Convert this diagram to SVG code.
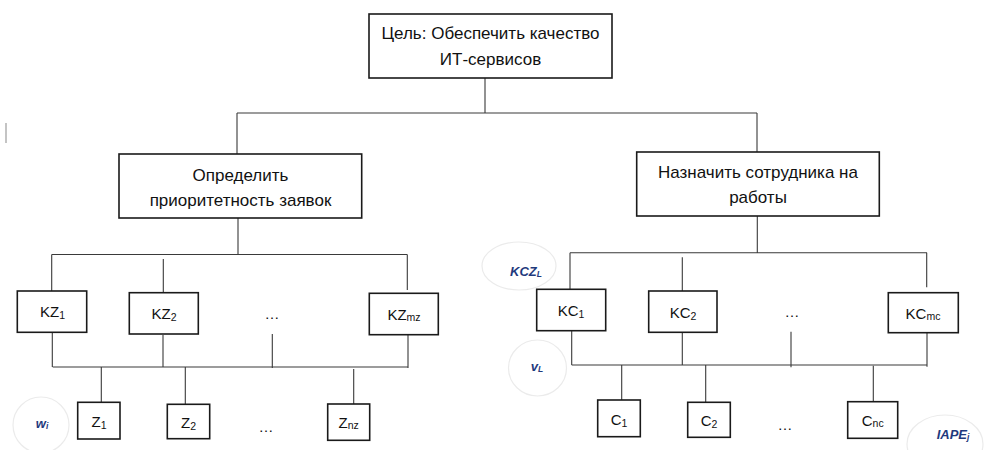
<svg xmlns="http://www.w3.org/2000/svg" width="984" height="450" viewBox="0 0 984 450">
<style>
.box{fill:#fff;stroke:#1a1a1a;stroke-width:1.6}
.ln{stroke:#3a3a3a;stroke-width:1.1;fill:none}
.t{font-family:"Liberation Sans",Arial,sans-serif;font-size:17px;fill:#111;text-anchor:middle}
.s{font-family:"Liberation Sans",Arial,sans-serif;font-size:15px;fill:#111;text-anchor:middle}
.sub{font-size:10.5px}
.ell{fill:#fff;stroke:#ebebeb;stroke-width:1.2}
.lbl{font-family:"Liberation Sans",Arial,sans-serif;font-size:13px;font-weight:bold;font-style:italic;fill:#1f3a7d;text-anchor:middle}
.lsub{font-size:8.5px}
</style>
<rect width="984" height="450" fill="#fff"/>
<line x1="6" y1="123" x2="6" y2="143" stroke="#b0b0b0" stroke-width="1.5"/>
<g id="ellipses">
<ellipse class="ell" cx="41" cy="425" rx="28" ry="28"/>
<ellipse class="ell" cx="519" cy="266" rx="37" ry="24"/>
<ellipse class="ell" cx="537.5" cy="368" rx="29" ry="28"/>
<ellipse class="ell" cx="945" cy="444" rx="38" ry="29"/>
</g>
<g id="connectors">
<path class="ln" d="M485 78V113M237 113H757M237 113V154M757 113V152"/>
<path class="ln" d="M238 218V254.5M51.7 254.5H407.3M51.7 254.5V291M163.3 259V293M407.3 254.5V290"/>
<path class="ln" d="M52.3 332V367M163 335V367M272.3 334V368M408 335V368M52.7 367H408.3"/>
<path class="ln" d="M101.3 367V402.3M185.3 367V404.3M353.7 369V404"/>
<path class="ln" d="M757.3 216V252.7M570 252.7H927M570 252.7V289M682.3 257.3V291M926.7 252.7V287.3"/>
<path class="ln" d="M571.7 330.7V365M682.3 332.3V365M791 331.7V367.3M927 333V366.7M571.7 365H927"/>
<path class="ln" d="M621.7 365V400M705.7 365V402.3M873.3 365.7V401.7"/>
</g>
<g id="goal">
<rect class="box" x="369" y="14" width="243" height="64"/>
<text class="t" x="490.5" y="39">Цель: Обеспечить качество</text>
<text class="t" x="490.5" y="65">ИТ-сервисов</text>
</g>
<g id="priority">
<rect class="box" x="119" y="154" width="242.7" height="64"/>
<text class="t" x="240.5" y="181">Определить</text>
<text class="t" x="240.5" y="206">приоритетность заявок</text>
</g>
<g id="assign">
<rect class="box" x="636.7" y="152" width="242.6" height="64"/>
<text class="t" x="758" y="177.5">Назначить сотрудника на</text>
<text class="t" x="758" y="202.5">работы</text>
</g>
<g id="kz1"><rect class="box" x="17.3" y="291" width="69.4" height="41.3"/><text class="s" x="52.5" y="316.5">KZ<tspan class="sub" dy="2">1</tspan></text></g>
<g id="kz2"><rect class="box" x="129.3" y="292.7" width="69" height="41.3"/><text class="s" x="164" y="318.5">KZ<tspan class="sub" dy="2">2</tspan></text></g>
<g id="kzdots"><text class="s" x="272" y="319">…</text></g>
<g id="kzmz"><rect class="box" x="369.3" y="293.3" width="69" height="41.4"/><text class="s" x="404" y="319.5">KZ<tspan class="sub" dy="1">mz</tspan></text></g>
<g id="z1"><rect class="box" x="77.7" y="402.3" width="42.3" height="36.7"/><text class="s" x="99" y="426.5">Z<tspan class="sub" dy="2">1</tspan></text></g>
<g id="z2"><rect class="box" x="167.3" y="404.3" width="42.4" height="34.4"/><text class="s" x="188.5" y="427.5">Z<tspan class="sub" dy="2">2</tspan></text></g>
<g id="zdots"><text class="s" x="266" y="432">…</text></g>
<g id="znz"><rect class="box" x="327.7" y="404" width="42" height="36.3"/><text class="s" x="348.7" y="427.5">Z<tspan class="sub" dy="1">nz</tspan></text></g>
<g id="kc1"><rect class="box" x="536.7" y="289.3" width="69" height="41.4"/><text class="s" x="571" y="315.5">KC<tspan class="sub" dy="2">1</tspan></text></g>
<g id="kc2"><rect class="box" x="648.7" y="291" width="68.3" height="41.3"/><text class="s" x="683" y="317.5">KC<tspan class="sub" dy="2">2</tspan></text></g>
<g id="kcdots"><text class="s" x="792" y="317">…</text></g>
<g id="kcmc"><rect class="box" x="888.3" y="292.7" width="70" height="40"/><text class="s" x="923" y="318.5">KC<tspan class="sub" dy="1">mc</tspan></text></g>
<g id="c1"><rect class="box" x="597.7" y="400" width="42.6" height="36.7"/><text class="s" x="619" y="424.5">C<tspan class="sub" dy="2">1</tspan></text></g>
<g id="c2"><rect class="box" x="687.7" y="402.3" width="42.6" height="35"/><text class="s" x="709" y="425.5">C<tspan class="sub" dy="2">2</tspan></text></g>
<g id="cdots"><text class="s" x="785" y="430">…</text></g>
<g id="cnc"><rect class="box" x="847.7" y="401.7" width="50" height="36.6"/><text class="s" x="872.7" y="425.5">C<tspan class="sub" dy="1">nc</tspan></text></g>
<g id="labels">
<text class="lbl" x="42" y="428">w<tspan class="lsub" dy="1">i</tspan></text>
<text class="lbl" x="526" y="276">KCZ<tspan class="lsub" dy="1">L</tspan></text>
<text class="lbl" x="537" y="371">v<tspan class="lsub" dy="1">L</tspan></text>
<text class="lbl" x="953" y="439">IAPE<tspan class="lsub" dy="1">j</tspan></text>
</g>
</svg>
